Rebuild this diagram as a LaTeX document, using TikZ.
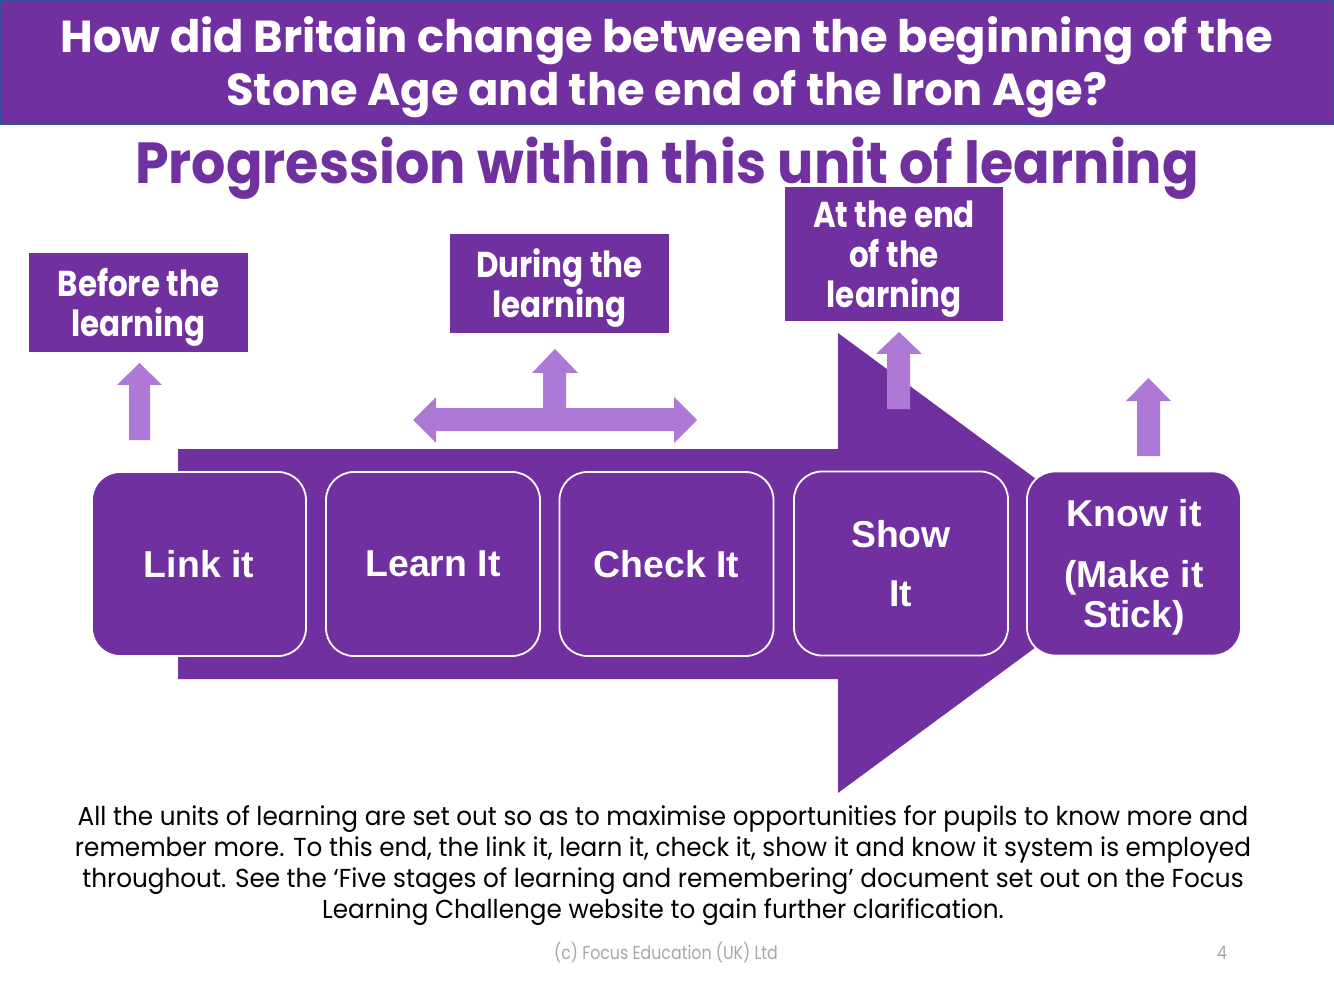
\documentclass[tikz,border=0pt]{standalone}
\usepackage{fontspec}
\setmainfont{Poppins}
\newfontfamily\pop[FakeStretch=0.95]{Poppins}
\newfontfamily\popf[FakeStretch=0.85]{Poppins}
\newfontfamily\popb[FakeStretch=0.86]{Poppins Bold}
\newfontfamily\popbt[FakeStretch=0.93]{Poppins Bold}
\newfontfamily\popbh{Poppins Bold}
\newfontfamily\arl{Liberation Sans}
\definecolor{purp}{HTML}{7030A0}
\definecolor{lilac}{HTML}{AD78D6}
\definecolor{hdrline}{HTML}{2F5597}
\definecolor{foot}{HTML}{A6A6A6}
\begin{document}
\begin{tikzpicture}[x=0.5pt,y=-0.5pt,
  hdrtext/.style={text=white,font=\popbh\fontsize{22.4}{26.5}\selectfont,align=center},
  labelbox/.style={fill=purp,text=white,font=\popb\fontsize{18}{20}\selectfont,align=center,inner sep=0pt,text depth=0pt},
  stagebox/.style={fill=purp,draw=white,line width=0.9pt,rounded corners=14pt,text=white,
    font=\arl\bfseries\fontsize{18.7}{29.5}\selectfont,align=center,minimum width=107pt,minimum height=92pt,inner sep=0pt},
  liftarrow/.style={fill=lilac}
]
\useasboundingbox (0,0) rectangle (1334,1000);
% header band
\fill[purp,draw=hdrline,line width=0.8pt] (0.5,0.5) rectangle (1333.5,124);
\node[hdrtext] (hdr) at (667,67) {How did Britain change between the beginning of the\\Stone Age and the end of the Iron Age?};
% title
\node[text=purp,font=\popbt\fontsize{29}{32}\selectfont] (title) at (667,168) {Progression within this unit of learning};
% big arrow
\fill[purp] (178,449) -- (838,449) -- (838,333) -- (1150,563) -- (838,793) -- (838,679) -- (178,679) -- cycle;
% label boxes
\node[labelbox,minimum width=109.5pt,minimum height=49.5pt] (before) at (138.5,302.5) {Before the\\learning};
\node[labelbox,minimum width=109.5pt,minimum height=49.5pt] (during) at (559.5,283.5) {During the\\learning};
\node[labelbox,minimum width=109pt,minimum height=67pt] (atend) at (894,254) {At the end\\of the\\learning};
% lift arrows
\fill[liftarrow] (129,440) -- (129,385) -- (117,385) -- (139.5,363) -- (162,385) -- (150,385) -- (150,440) -- cycle;
\fill[liftarrow] (413,420) -- (436,397) -- (436,408) -- (543,408) -- (543,373) -- (532,373) -- (555,349) -- (578,373) -- (566,373) -- (566,408) -- (674,408) -- (674,397) -- (697,420) -- (674,443) -- (674,431) -- (436,431) -- (436,443) -- cycle;
\fill[liftarrow] (887,409) -- (887,354) -- (876,354) -- (899,332) -- (922,354) -- (910,354) -- (910,409) -- cycle;
\fill[liftarrow] (1137,456) -- (1137,401) -- (1126,401) -- (1148.5,378) -- (1171,401) -- (1160,401) -- (1160,456) -- cycle;
% stage boxes
\node[stagebox] (link) at (199,564) {Link it};
\node[stagebox] (learn) at (433,564) {Learn It};
\node[stagebox] (check) at (666.5,564) {Check It};
\node[stagebox] (show) at (901,563.5) {Show\\It};
\node[stagebox,font=\arl\bfseries\fontsize{18.7}{20}\selectfont,text depth=0pt] (know) at (1134,563.5) {Know it\\[10.5pt](Make it\\Stick)};
% body text
\node[font=\pop\fontsize{13}{15.5}\selectfont,align=center,text=black] (body) at (663,866) {All the units of learning are set out so as to maximise opportunities for pupils to know more and\\remember more. To this end, the link it, learn it, check it, show it and know it system is employed\\throughout. See the ‘Five stages of learning and remembering’ document set out on the Focus\\Learning Challenge website to gain further clarification.};
% footer
\node[font=\popf\fontsize{9.3}{10}\selectfont,text=foot] (copy) at (666,953) {(c) Focus Education (UK) Ltd};
\node[font=\popf\fontsize{9.3}{10}\selectfont,text=foot] (page) at (1222,953) {4};
\end{tikzpicture}
\end{document}
